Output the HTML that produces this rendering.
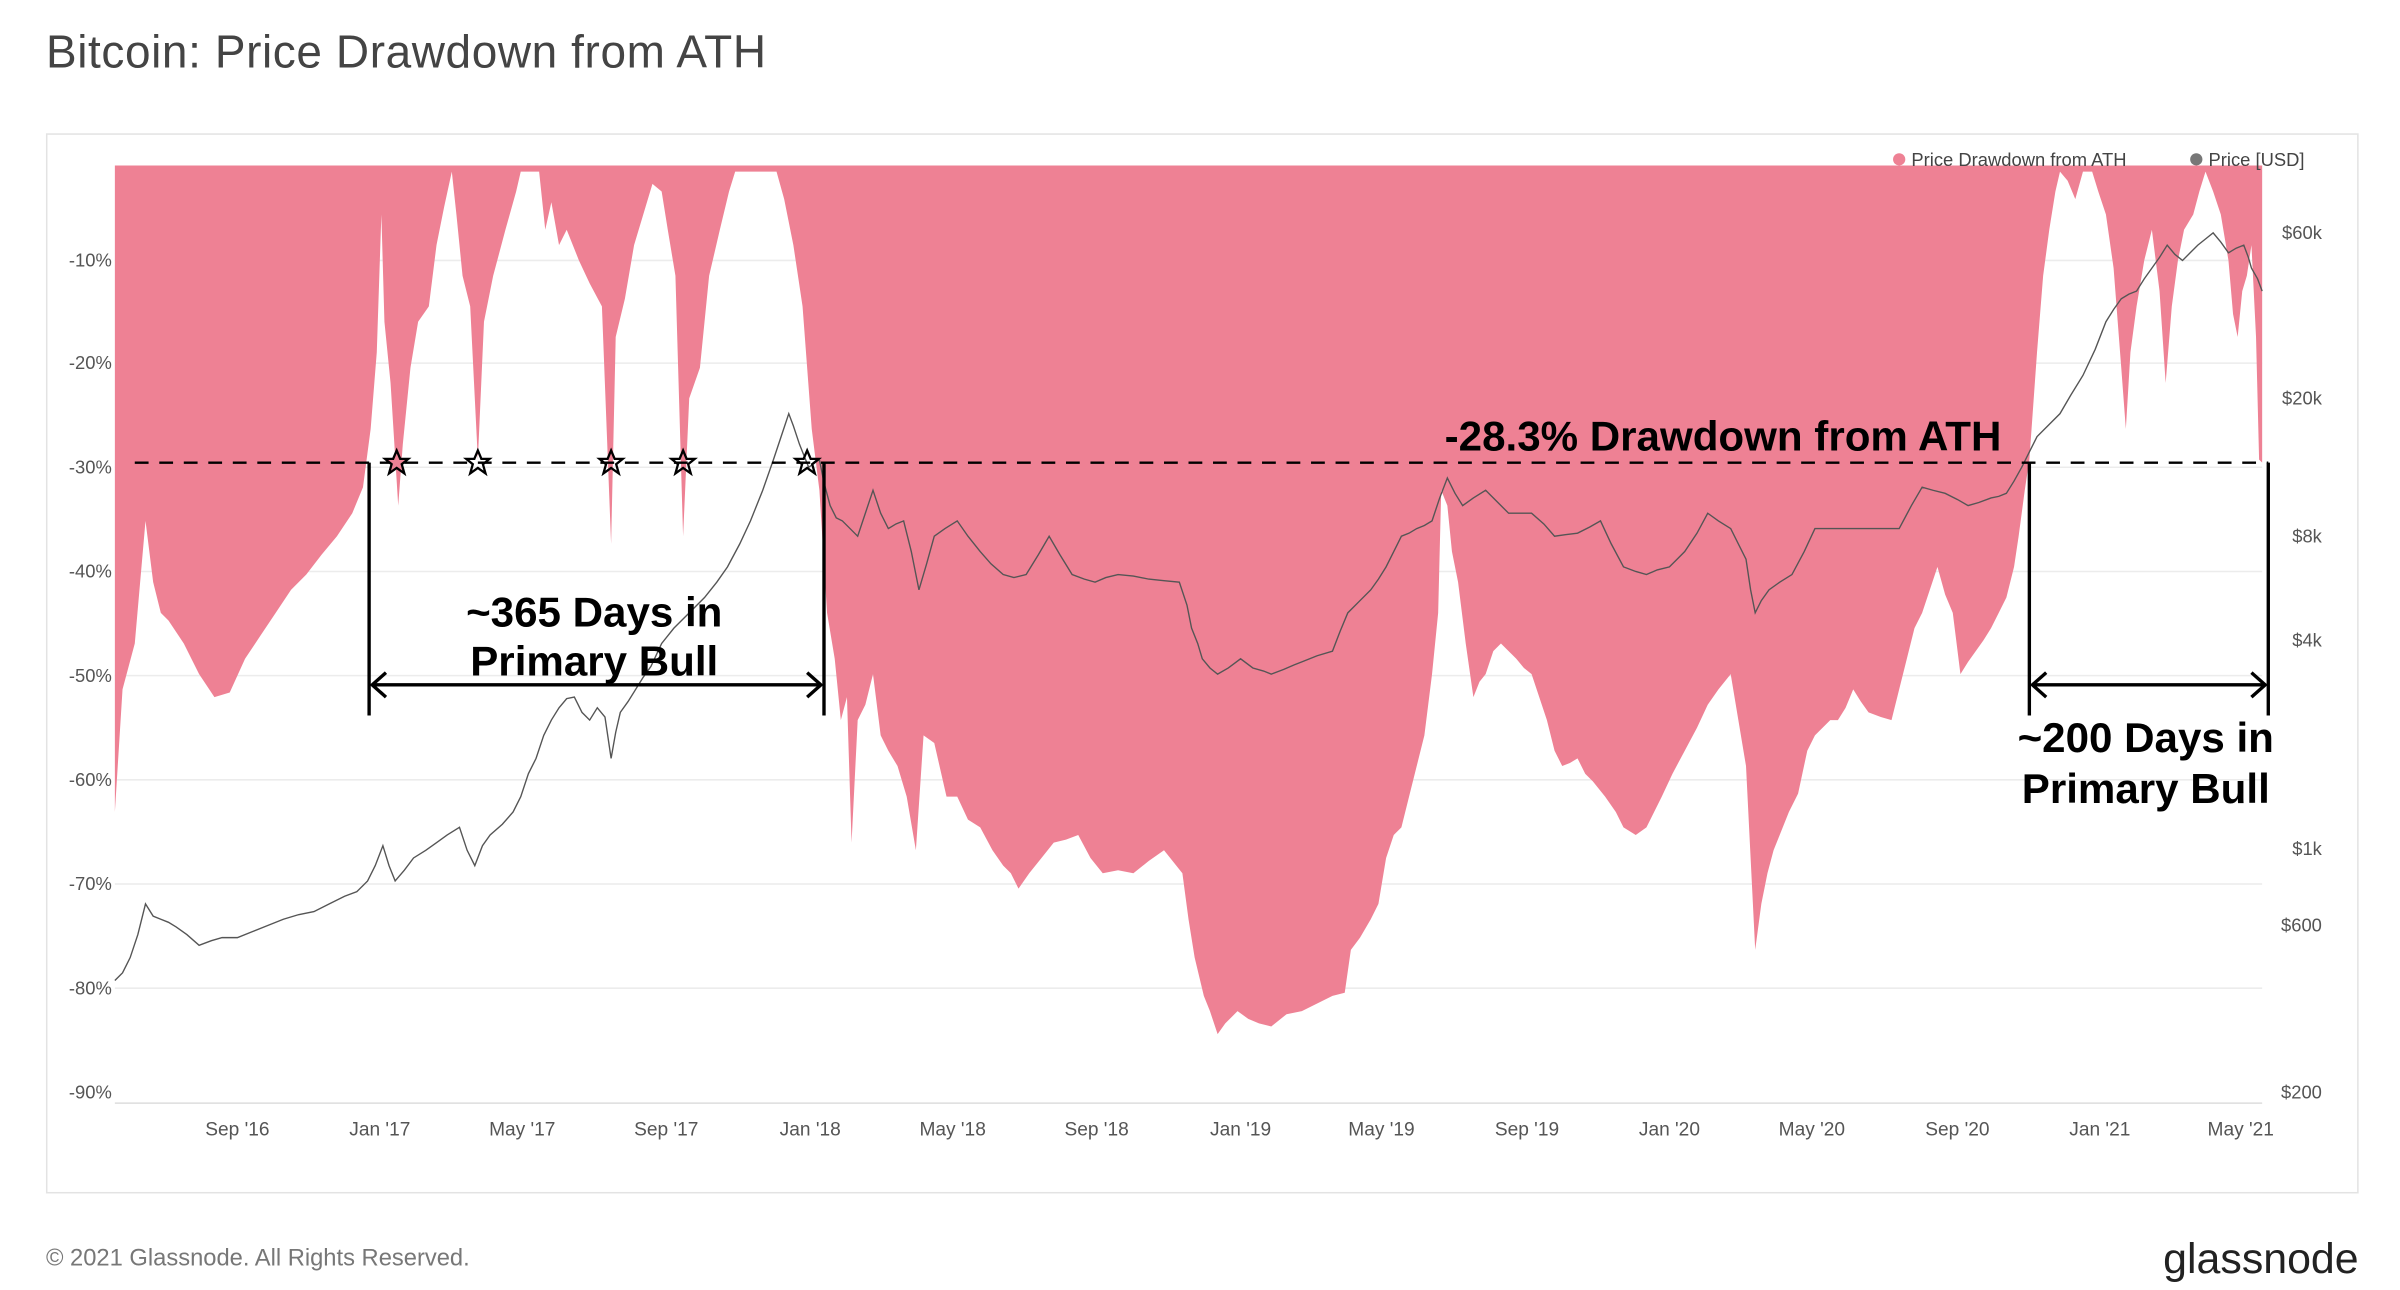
<!DOCTYPE html>
<html><head><meta charset="utf-8"><style>
html,body{margin:0;padding:0;background:#fff;width:2400px;height:1290px;overflow:hidden}
svg{display:block}
text{font-family:"Liberation Sans",sans-serif}
</style></head><body>
<svg width="2400" height="1290" viewBox="0 0 1567 842" preserveAspectRatio="none">
<rect width="1567" height="842" fill="#fff"/>
<text x="30" y="44" font-size="30" letter-spacing="0.4" fill="#444">Bitcoin: Price Drawdown from ATH</text>
<rect x="30.5" y="87.5" width="1509" height="691" fill="#fff" stroke="#e3e3e3" stroke-width="1"/>
<g stroke="#ececec" stroke-width="1">
<line x1="75" y1="170" x2="1477" y2="170"/><line x1="75" y1="237" x2="1477" y2="237"/>
<line x1="75" y1="305" x2="1477" y2="305"/><line x1="75" y1="373" x2="1477" y2="373"/>
<line x1="75" y1="441" x2="1477" y2="441"/><line x1="75" y1="509" x2="1477" y2="509"/>
<line x1="75" y1="577" x2="1477" y2="577"/><line x1="75" y1="645" x2="1477" y2="645"/>
<line x1="75" y1="720" x2="1477" y2="720" stroke="#ddd"/>
</g>
<polygon fill="#ee8194" points="75,108 75,530 80,450 88,420 95,340 100,380 105,400 110,405 120,420 130,440 140,455 150,452 160,430 170,415 180,400 190,385 200,375 210,362 220,350 230,335 237,318 242,280 246,230 249,140 251,210 255,250 260,330 263,290 268,240 273,210 280,200 285,160 290,135 295,112 298,140 302,180 307,200 312,300 316,210 322,180 330,150 337,125 340,112 347,112 352,112 356,150 360,132 365,160 370,150 378,170 385,185 393,200 399,355 402,220 408,195 414,160 420,140 426,120 432,125 436,150 441,180 446,350 450,260 457,240 463,180 470,150 476,125 480,112 492,112 500,112 507,112 512,130 518,160 524,200 530,280 535,320 540,400 545,430 549,470 553,455 556,550 560,470 565,460 570,440 575,480 580,490 586,500 592,520 598,555 603,480 610,485 618,520 625,520 632,535 640,540 648,555 655,565 660,570 665,580 672,570 680,560 688,550 696,548 704,545 712,560 720,570 730,568 740,570 750,562 760,555 772,570 776,600 780,625 786,650 790,660 795,675 800,668 808,660 815,665 822,668 830,670 840,662 850,660 860,655 870,650 878,648 882,620 888,612 895,600 900,590 905,560 910,545 915,540 920,520 925,500 930,480 935,440 939,400 941,320 945,330 948,360 952,380 957,420 962,455 966,445 970,440 975,425 980,420 985,425 990,430 995,436 1000,440 1005,455 1010,470 1015,490 1020,500 1025,498 1030,495 1035,505 1040,510 1048,520 1055,530 1060,540 1068,545 1075,540 1080,530 1085,520 1092,505 1100,490 1108,475 1115,460 1122,450 1130,440 1135,470 1140,500 1143,560 1146,620 1150,590 1154,570 1158,555 1162,545 1168,530 1174,518 1180,490 1185,480 1190,475 1195,470 1200,470 1205,462 1210,450 1215,458 1220,465 1228,468 1235,470 1240,450 1245,430 1250,410 1255,400 1260,385 1265,370 1270,388 1275,400 1280,440 1285,432 1290,425 1295,418 1300,410 1305,400 1310,390 1315,370 1318,350 1322,320 1325,300 1330,230 1334,180 1338,150 1342,125 1345,112 1350,118 1355,130 1360,112 1366,112 1370,125 1375,140 1380,175 1385,240 1388,280 1391,230 1395,200 1400,170 1405,150 1410,190 1414,250 1418,200 1422,170 1426,150 1432,140 1436,125 1440,112 1445,125 1450,140 1455,170 1458,205 1461,220 1464,190 1467,180 1470,160 1473,220 1475,300 1477,302 1477,108"/>
<polyline fill="none" stroke="#555" stroke-width="0.9" points="75,640 80,635 85,625 90,610 95,590 100,598 105,600 110,602 115,605 122,610 130,617 138,614 145,612 155,612 165,608 175,604 185,600 195,597 205,595 215,590 225,585 233,582 240,575 245,565 250,552 254,565 258,575 264,568 270,560 278,555 285,550 292,545 300,540 305,555 310,565 315,552 320,545 328,538 335,530 340,520 345,505 350,495 355,480 360,470 365,462 370,456 375,455 380,465 385,470 390,462 395,468 399,495 402,478 405,465 410,458 415,450 420,442 425,435 432,420 440,410 450,400 460,390 468,380 475,370 483,355 490,340 498,320 505,300 510,285 515,270 518,278 522,290 528,305 535,300 538,315 542,330 546,338 550,340 555,345 560,350 565,335 570,320 575,335 580,345 585,342 590,340 595,360 600,385 605,368 610,350 617,345 625,340 632,350 640,360 647,368 655,375 662,377 670,375 678,362 685,350 692,362 700,375 708,378 715,380 722,377 730,375 740,376 750,378 760,379 770,380 775,395 778,410 782,420 785,430 790,436 795,440 802,436 810,430 818,436 825,438 830,440 838,437 845,434 850,432 860,428 870,425 875,412 880,400 888,392 895,385 900,378 905,370 910,360 915,350 920,348 925,345 930,343 935,340 940,325 945,312 950,322 955,330 962,325 970,320 978,328 985,335 992,335 1000,335 1008,342 1015,350 1022,349 1030,348 1038,344 1045,340 1052,355 1060,370 1068,373 1075,375 1082,372 1090,370 1095,365 1100,360 1108,348 1115,335 1122,340 1130,345 1135,355 1140,365 1143,385 1146,400 1150,392 1155,385 1162,380 1170,375 1178,360 1185,345 1192,345 1200,345 1210,345 1220,345 1230,345 1240,345 1248,330 1255,318 1262,320 1270,322 1278,326 1285,330 1292,328 1300,325 1305,324 1310,322 1315,314 1320,305 1325,295 1330,285 1338,277 1345,270 1352,258 1360,245 1368,228 1375,210 1380,202 1385,195 1390,192 1395,190 1400,182 1405,175 1410,168 1415,160 1420,166 1425,170 1430,165 1435,160 1440,156 1445,152 1450,158 1455,165 1460,162 1465,160 1468,168 1470,175 1474,182 1477,190"/>
<g font-size="12" fill="#555" text-anchor="end">
<text x="73" y="174">-10%</text><text x="73" y="241">-20%</text><text x="73" y="309">-30%</text>
<text x="73" y="377">-40%</text><text x="73" y="445">-50%</text><text x="73" y="513">-60%</text>
<text x="73" y="581">-70%</text><text x="73" y="649">-80%</text><text x="73" y="717">-90%</text>
</g>
<g font-size="12" fill="#555" text-anchor="end">
<text x="1516" y="156">$60k</text><text x="1516" y="264">$20k</text><text x="1516" y="354">$8k</text>
<text x="1516" y="422">$4k</text><text x="1516" y="558">$1k</text><text x="1516" y="608">$600</text>
<text x="1516" y="717">$200</text>
</g>
<g font-size="12.5" fill="#555" text-anchor="middle">
<text x="155" y="741">Sep '16</text><text x="248" y="741">Jan '17</text><text x="341" y="741">May '17</text>
<text x="435" y="741">Sep '17</text><text x="529" y="741">Jan '18</text><text x="622" y="741">May '18</text>
<text x="716" y="741">Sep '18</text><text x="810" y="741">Jan '19</text><text x="902" y="741">May '19</text>
<text x="997" y="741">Sep '19</text><text x="1090" y="741">Jan '20</text><text x="1183" y="741">May '20</text>
<text x="1278" y="741">Sep '20</text><text x="1371" y="741">Jan '21</text><text x="1463" y="741">May '21</text>
</g>
<circle cx="1240" cy="104" r="4" fill="#ee8194"/>
<text x="1248" y="108.5" font-size="12" fill="#444">Price Drawdown from ATH</text>
<circle cx="1434" cy="104" r="4" fill="#777"/>
<text x="1442" y="108.5" font-size="12" fill="#444">Price [USD]</text>
<line x1="88" y1="302" x2="1481" y2="302" stroke="#000" stroke-width="1.6" stroke-dasharray="9,7"/>
<g stroke="#000" stroke-width="2.2" fill="none">
<line x1="241" y1="302" x2="241" y2="467"/><line x1="538" y1="302" x2="538" y2="467"/>
<line x1="1325" y1="302" x2="1325" y2="467"/><line x1="1481" y1="302" x2="1481" y2="467"/>
<line x1="243" y1="447" x2="536" y2="447"/><line x1="1327" y1="447" x2="1479" y2="447"/>
<polyline points="252,439 243,447 252,455"/><polyline points="527,439 536,447 527,455"/>
<polyline points="1336,439 1327,447 1336,455"/><polyline points="1470,439 1479,447 1470,455"/>
</g>
<g fill="none" stroke="#000" stroke-width="1.5">
<polygon transform="translate(259,302)" points="0,-8 2.3,-2.5 7.6,-2.5 3.3,1 5,7 0,3.4 -5,7 -3.3,1 -7.6,-2.5 -2.3,-2.5" fill="#ee8194"/>
<polygon transform="translate(312,302)" points="0,-8 2.3,-2.5 7.6,-2.5 3.3,1 5,7 0,3.4 -5,7 -3.3,1 -7.6,-2.5 -2.3,-2.5"/>
<polygon transform="translate(399,302)" points="0,-8 2.3,-2.5 7.6,-2.5 3.3,1 5,7 0,3.4 -5,7 -3.3,1 -7.6,-2.5 -2.3,-2.5"/>
<polygon transform="translate(446,302)" points="0,-8 2.3,-2.5 7.6,-2.5 3.3,1 5,7 0,3.4 -5,7 -3.3,1 -7.6,-2.5 -2.3,-2.5"/>
<polygon transform="translate(527,302)" points="0,-8 2.3,-2.5 7.6,-2.5 3.3,1 5,7 0,3.4 -5,7 -3.3,1 -7.6,-2.5 -2.3,-2.5"/>
</g>
<g font-size="27.5" font-weight="bold" fill="#000" text-anchor="middle">
<text x="388" y="409">~365 Days in</text><text x="388" y="441">Primary Bull</text>
<text x="1125" y="294">-28.3% Drawdown from ATH</text>
<text x="1401" y="491">~200 Days in</text><text x="1401" y="524">Primary Bull</text>
</g>
<text x="30" y="826" font-size="15.5" fill="#777">© 2021 Glassnode. All Rights Reserved.</text>
<text x="1540" y="831" font-size="28" fill="#222" text-anchor="end">glassnode</text>
</svg>
</body></html>
